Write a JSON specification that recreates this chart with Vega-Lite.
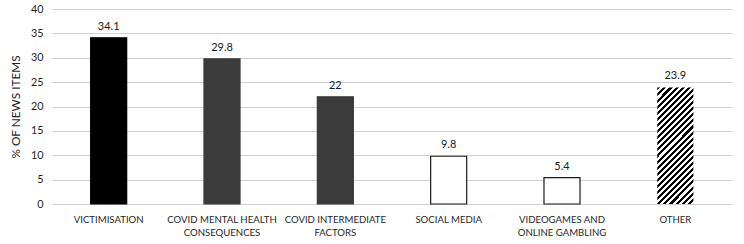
{
  "$schema": "https://vega.github.io/schema/vega-lite/v6.json",
  "autosize": "none",
  "width": 680,
  "height": 195,
  "padding": {"left": 52, "top": 9, "right": 12, "bottom": 40},
  "background": "white",
  "config": {
    "view": {"stroke": null},
    "font": "Lato",
    "axis": {"labelFont": "Lato", "titleFont": "Lato"}
  },
  "data": {
    "values": [
      {"category": "VICTIMISATION", "pct": 34.1},
      {"category": "COVID MENTAL HEALTH CONSEQUENCES", "pct": 29.8},
      {"category": "COVID INTERMEDIATE FACTORS", "pct": 22},
      {"category": "SOCIAL MEDIA", "pct": 9.8},
      {"category": "VIDEOGAMES AND ONLINE GAMBLING", "pct": 5.4},
      {"category": "OTHER", "pct": 23.9}
    ]
  },
  "encoding": {
    "x": {
      "field": "category",
      "type": "nominal",
      "sort": null,
      "scale": {"paddingInner": 0.682, "paddingOuter": 0.341},
      "axis": {
        "title": null,
        "labelAngle": 0,
        "domain": false,
        "ticks": false,
        "labelPadding": 10,
        "labelFontSize": 9.6,
        "labelColor": "#1f1f1f",
        "labelLineHeight": 13.5,
        "labelBaseline": "top",
        "labelExpr": "datum.value == 'COVID MENTAL HEALTH CONSEQUENCES' ? ['COVID MENTAL HEALTH', 'CONSEQUENCES'] : datum.value == 'COVID INTERMEDIATE FACTORS' ? ['COVID INTERMEDIATE', 'FACTORS'] : datum.value == 'VIDEOGAMES AND ONLINE GAMBLING' ? ['VIDEOGAMES AND', 'ONLINE GAMBLING'] : datum.value"
      }
    },
    "y": {
      "field": "pct",
      "type": "quantitative",
      "scale": {"domain": [0, 40], "nice": false},
      "axis": {
        "title": "% OF NEWS ITEMS",
        "values": [0, 5, 10, 15, 20, 25, 30, 35, 40],
        "domain": false,
        "ticks": false,
        "labelPadding": 9,
        "labelFontSize": 10.8,
        "labelColor": "#1f1f1f",
        "titleFontSize": 11.8,
        "titleFontWeight": "normal",
        "titleColor": "#1f1f1f",
        "titlePadding": 9,
        "gridColor": "#d0d0d0",
        "gridWidth": 1
      }
    }
  },
  "layer": [
    {
      "transform": [{"filter": "datum.category != 'OTHER'"}],
      "mark": {"type": "bar", "strokeWidth": 1.2},
      "encoding": {
        "fill": {
          "field": "category",
          "type": "nominal",
          "legend": null,
          "scale": {
            "domain": ["VICTIMISATION", "COVID MENTAL HEALTH CONSEQUENCES", "COVID INTERMEDIATE FACTORS", "SOCIAL MEDIA", "VIDEOGAMES AND ONLINE GAMBLING"],
            "range": ["#000000", "#3b3b3b", "#3b3b3b", "#ffffff", "#ffffff"]
          }
        },
        "stroke": {
          "field": "category",
          "type": "nominal",
          "legend": null,
          "scale": {
            "domain": ["VICTIMISATION", "COVID MENTAL HEALTH CONSEQUENCES", "COVID INTERMEDIATE FACTORS", "SOCIAL MEDIA", "VIDEOGAMES AND ONLINE GAMBLING"],
            "range": ["#000000", "#3b3b3b", "#3b3b3b", "#1a1a1a", "#1a1a1a"]
          }
        }
      }
    },
    {
      "transform": [{"filter": "datum.category == 'OTHER'"}],
      "mark": {
        "type": "bar",
        "fill": {
          "gradient": "linear",
          "x1": 0, "y1": 0, "x2": 0.3705, "y2": 1.195,
          "stops": [
            {"offset": 0.00, "color": "#000000"}, {"offset": 0.02, "color": "#000000"}, {"offset": 0.02, "color": "#ffffff"}, {"offset": 0.04, "color": "#ffffff"},
            {"offset": 0.04, "color": "#000000"}, {"offset": 0.06, "color": "#000000"}, {"offset": 0.06, "color": "#ffffff"}, {"offset": 0.08, "color": "#ffffff"},
            {"offset": 0.08, "color": "#000000"}, {"offset": 0.10, "color": "#000000"}, {"offset": 0.10, "color": "#ffffff"}, {"offset": 0.12, "color": "#ffffff"},
            {"offset": 0.12, "color": "#000000"}, {"offset": 0.14, "color": "#000000"}, {"offset": 0.14, "color": "#ffffff"}, {"offset": 0.16, "color": "#ffffff"},
            {"offset": 0.16, "color": "#000000"}, {"offset": 0.18, "color": "#000000"}, {"offset": 0.18, "color": "#ffffff"}, {"offset": 0.20, "color": "#ffffff"},
            {"offset": 0.20, "color": "#000000"}, {"offset": 0.22, "color": "#000000"}, {"offset": 0.22, "color": "#ffffff"}, {"offset": 0.24, "color": "#ffffff"},
            {"offset": 0.24, "color": "#000000"}, {"offset": 0.26, "color": "#000000"}, {"offset": 0.26, "color": "#ffffff"}, {"offset": 0.28, "color": "#ffffff"},
            {"offset": 0.28, "color": "#000000"}, {"offset": 0.30, "color": "#000000"}, {"offset": 0.30, "color": "#ffffff"}, {"offset": 0.32, "color": "#ffffff"},
            {"offset": 0.32, "color": "#000000"}, {"offset": 0.34, "color": "#000000"}, {"offset": 0.34, "color": "#ffffff"}, {"offset": 0.36, "color": "#ffffff"},
            {"offset": 0.36, "color": "#000000"}, {"offset": 0.38, "color": "#000000"}, {"offset": 0.38, "color": "#ffffff"}, {"offset": 0.40, "color": "#ffffff"},
            {"offset": 0.40, "color": "#000000"}, {"offset": 0.42, "color": "#000000"}, {"offset": 0.42, "color": "#ffffff"}, {"offset": 0.44, "color": "#ffffff"},
            {"offset": 0.44, "color": "#000000"}, {"offset": 0.46, "color": "#000000"}, {"offset": 0.46, "color": "#ffffff"}, {"offset": 0.48, "color": "#ffffff"},
            {"offset": 0.48, "color": "#000000"}, {"offset": 0.50, "color": "#000000"}, {"offset": 0.50, "color": "#ffffff"}, {"offset": 0.52, "color": "#ffffff"},
            {"offset": 0.52, "color": "#000000"}, {"offset": 0.54, "color": "#000000"}, {"offset": 0.54, "color": "#ffffff"}, {"offset": 0.56, "color": "#ffffff"},
            {"offset": 0.56, "color": "#000000"}, {"offset": 0.58, "color": "#000000"}, {"offset": 0.58, "color": "#ffffff"}, {"offset": 0.60, "color": "#ffffff"},
            {"offset": 0.60, "color": "#000000"}, {"offset": 0.62, "color": "#000000"}, {"offset": 0.62, "color": "#ffffff"}, {"offset": 0.64, "color": "#ffffff"},
            {"offset": 0.64, "color": "#000000"}, {"offset": 0.66, "color": "#000000"}, {"offset": 0.66, "color": "#ffffff"}, {"offset": 0.68, "color": "#ffffff"},
            {"offset": 0.68, "color": "#000000"}, {"offset": 0.70, "color": "#000000"}, {"offset": 0.70, "color": "#ffffff"}, {"offset": 0.72, "color": "#ffffff"},
            {"offset": 0.72, "color": "#000000"}, {"offset": 0.74, "color": "#000000"}, {"offset": 0.74, "color": "#ffffff"}, {"offset": 0.76, "color": "#ffffff"},
            {"offset": 0.76, "color": "#000000"}, {"offset": 0.78, "color": "#000000"}, {"offset": 0.78, "color": "#ffffff"}, {"offset": 0.80, "color": "#ffffff"},
            {"offset": 0.80, "color": "#000000"}, {"offset": 0.82, "color": "#000000"}, {"offset": 0.82, "color": "#ffffff"}, {"offset": 0.84, "color": "#ffffff"},
            {"offset": 0.84, "color": "#000000"}, {"offset": 0.86, "color": "#000000"}, {"offset": 0.86, "color": "#ffffff"}, {"offset": 0.88, "color": "#ffffff"},
            {"offset": 0.88, "color": "#000000"}, {"offset": 0.90, "color": "#000000"}, {"offset": 0.90, "color": "#ffffff"}, {"offset": 0.92, "color": "#ffffff"},
            {"offset": 0.92, "color": "#000000"}, {"offset": 0.94, "color": "#000000"}, {"offset": 0.94, "color": "#ffffff"}, {"offset": 0.96, "color": "#ffffff"},
            {"offset": 0.96, "color": "#000000"}, {"offset": 0.98, "color": "#000000"}, {"offset": 0.98, "color": "#ffffff"}, {"offset": 1.00, "color": "#ffffff"}
          ]
        }
      }
    },
    {
      "mark": {"type": "text", "baseline": "bottom", "dy": -6, "fontSize": 11, "color": "#1a1a1a"},
      "encoding": {"text": {"field": "pct", "type": "quantitative"}}
    }
  ]
}
